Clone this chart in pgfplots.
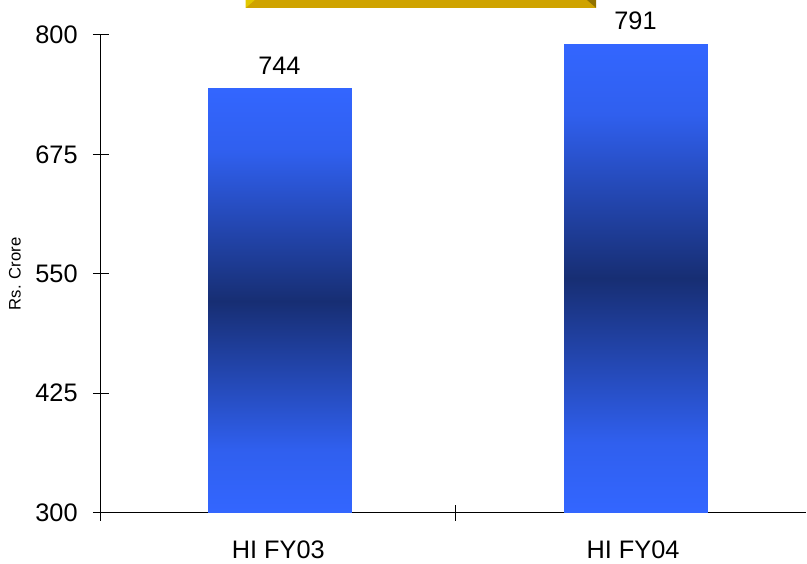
\documentclass[border=0pt]{standalone}
\usepackage{pgfplots}
\pgfplotsset{compat=1.18}
\usepackage{fontspec}
\setmainfont{Liberation Sans}
\definecolor{lb}{HTML}{3366FF}
\definecolor{db}{HTML}{172E73}
\definecolor{gold}{HTML}{CFA300}
\pgfplotsset{colormap={barmap}{color(0)=(lb) color(0.3)=(lb!88!db) color(1)=(db)}}
\begin{document}
\begin{tikzpicture}
\begin{axis}[
  scale only axis,
  width=529.5pt, height=358.5pt,
  xmin=0, xmax=1.989, ymin=300, ymax=800,
  axis x line*=bottom, axis y line*=left,
  axis line style={line width=0.8pt},
  clip=false,
  ytick={300,425,550,675,800},
  xtick={0,1}, xticklabels={},
  extra x ticks={0.5,1.5},
  extra x tick labels={HI FY03,HI FY04},
  extra x tick style={major tick length=0pt, xticklabel style={yshift=-18pt}},
  tick align=center, major tick length=12pt,
  tick style={black, line width=0.8pt},
  /pgf/number format/assume math mode=true,
  ticklabel style={font=\fontsize{19}{22}\selectfont},
  yticklabel style={xshift=-8pt},
  ylabel={Rs. Crore},
  ylabel style={font=\fontsize{12.5}{14}\selectfont, yshift=4pt},
  colormap name=barmap, point meta min=0, point meta max=1,
]
% bars: shaded rectangles from the axis floor (300) to the value; light ends, dark middle
\addplot[patch, patch type=rectangle, shader=interp, point meta=explicit]
  table[meta=c] {
x       y     c
0.3005  300   0
0.7055  300   0
0.7055  522   1
0.3005  522   1
0.3005  522   1
0.7055  522   1
0.7055  744   0
0.3005  744   0
1.3045  300   0
1.7095  300   0
1.7095  545.5 1
1.3045  545.5 1
1.3045  545.5 1
1.7095  545.5 1
1.7095  791   0
1.3045  791   0
};
% value labels
\addplot[draw=none, mark=none, nodes near coords, point meta=y,
  nodes near coords style={font=\fontsize{19}{22}\selectfont, yshift=7pt, black}]
  coordinates {(0.503,744) (1.507,791)};
% title banner (decoration)
\fill[gold] (rel axis cs:0.205,1.0565) rectangle (rel axis cs:0.702,1.0732);
\fill[gold!60!yellow] (rel axis cs:0.205,1.0565) -- (rel axis cs:0.218,1.0732) -- (rel axis cs:0.205,1.0732) -- cycle;
\fill[gold!70!black] (rel axis cs:0.702,1.0565) -- (rel axis cs:0.689,1.0732) -- (rel axis cs:0.702,1.0732) -- cycle;
\path (rel axis cs:-0.1431,-0.1004) rectangle (rel axis cs:1,1.0732);
\end{axis}
\end{tikzpicture}
\end{document}
